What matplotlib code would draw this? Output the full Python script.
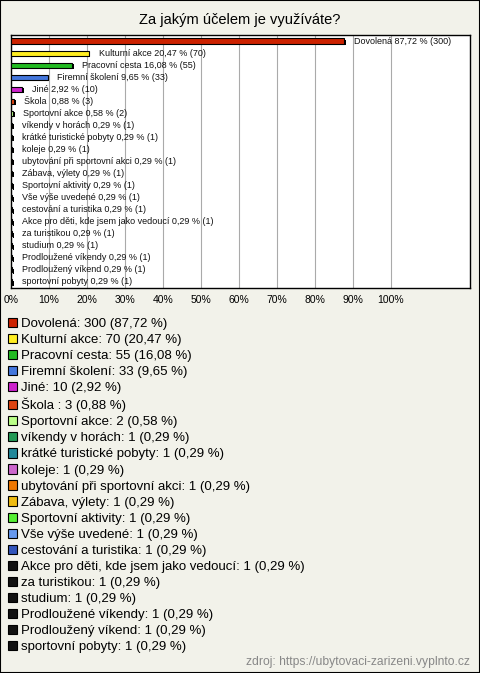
import matplotlib
matplotlib.use("Agg")
import matplotlib.pyplot as plt
from matplotlib.patches import Patch, Rectangle
import matplotlib.patheffects as pe

plt.rcParams['font.family'] = ['Liberation Sans', 'DejaVu Sans']

categories = [
    "Dovolená", "Kulturní akce", "Pracovní cesta", "Firemní školení", "Jiné",
    "Škola ", "Sportovní akce", "víkendy v horách", "krátké turistické pobyty",
    "koleje", "ubytování při sportovní akci", "Zábava, výlety",
    "Sportovní aktivity", "Vše výše uvedené", "cestování a turistika",
    "Akce pro děti, kde jsem jako vedoucí", "za turistikou", "studium",
    "Prodloužené víkendy", "Prodloužený víkend", "sportovní pobyty",
]
counts = [300, 70, 55, 33, 10, 3, 2, 1, 1, 1, 1, 1, 1, 1, 1, 1, 1, 1, 1, 1, 1]
percents = [87.72, 20.47, 16.08, 9.65, 2.92, 0.88, 0.58, 0.29, 0.29, 0.29,
            0.29, 0.29, 0.29, 0.29, 0.29, 0.29, 0.29, 0.29, 0.29, 0.29, 0.29]
colors = [
    "#CC2200", "#FFEE22", "#22BB22", "#4477DD", "#CC22CC", "#DD4411",
    "#BBFF88", "#229955", "#228899", "#CC66CC", "#EE7700", "#EEBB11",
    "#55EE33", "#6699EE", "#3355BB", "#111111", "#111111", "#111111",
    "#111111", "#111111", "#111111",
]
xticks = [0, 10, 20, 30, 40, 50, 60, 70, 80, 90, 100]
title = "Za jakým účelem je využíváte?"
source = "zdroj: https://ubytovaci-zarizeni.vyplnto.cz"

def fmt(v):
    return f"{v:.2f}".replace(".", ",")

W, H = 480, 673
bg = "#F2F2EA"
fig = plt.figure(figsize=(W / 100, H / 100), dpi=100, facecolor=bg)
fig.add_artist(Rectangle((0, 0), 1, 1, transform=fig.transFigure, fill=False,
                         edgecolor="black", linewidth=1.5))

ax = fig.add_axes([11 / W, 1 - 288 / H, 459 / W, 253 / H])
ax.set_facecolor("white")
ypos = list(range(len(categories)))
bars = ax.barh(ypos, percents, height=0.42, color=colors, edgecolor="black",
               linewidth=0.8, zorder=3)
for b in bars:
    b.set_path_effects([pe.SimplePatchShadow(offset=(1.2, -1.0), shadow_rgbFace="black", alpha=1.0),
                        pe.Normal()])
for y, p, c, name in zip(ypos, percents, counts, categories):
    ax.annotate(f"{name} {fmt(p)} % ({c})", (p, y), xytext=(7, 0),
                textcoords="offset points", va="center", ha="left",
                fontsize=6.5, color="#111111", zorder=4)

ax.set_xlim(0, 459 / 380 * 100)
ax.set_ylim(len(categories) - 0.5, -0.5)
ax.set_xticks(xticks)
ax.set_xticklabels([f"{t}%" for t in xticks], fontsize=7.5)
ax.tick_params(axis="x", length=0, pad=5)
ax.set_yticks([])
ax.grid(axis="x", color="#AAAAAA", linewidth=0.8, zorder=0)
for s in ax.spines.values():
    s.set_linewidth(1.0)
    s.set_color("black")

fig.text(0.5, 1 - 20 / H, title, ha="center", va="center", fontsize=10.5)

handles = [Patch(facecolor=c, edgecolor="black", linewidth=0.8) for c in colors]
labels = [f"{n}: {c} ({fmt(p)} %)" for n, c, p in zip(categories, counts, percents)]
fig.legend(handles, labels, loc="upper left", bbox_to_anchor=(8 / W, 1 - 317.5 / H),
           frameon=False, fontsize=9.5, borderpad=0, borderaxespad=0,
           labelspacing=0.29, handlelength=0.7, handleheight=0.7,
           handletextpad=0.25)

fig.text(470 / W, 1 - 662 / H, source, ha="right", va="center", fontsize=8.7,
         color="#888888")

fig.savefig("out.png", dpi=100, facecolor=bg)
